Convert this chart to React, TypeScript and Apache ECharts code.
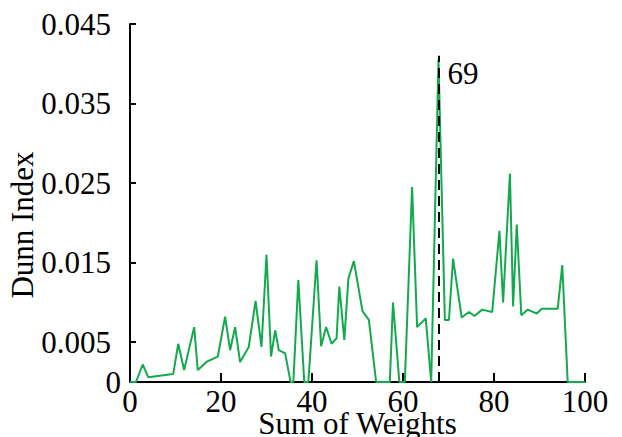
import React, { useEffect, useRef } from "react";
import * as echarts from "echarts";

const weightSums = [0, 1.3, 2.8, 4.0, 9.5, 10.6, 11.9, 14.1, 14.9, 17.0, 19.3, 20.9, 22.0, 23.1, 24.2, 26.1, 27.6, 28.9, 30.0, 31.0, 31.9, 32.7, 34.1, 35.3, 35.9, 37.0, 38.3, 39.2, 41.0, 42.0, 43.1, 44.3, 45.4, 46.0, 47.1, 48.0, 49.2, 51.1, 52.5, 54.1, 57.1, 57.8, 59.2, 60.4, 62.0, 63.1, 65.0, 66.2, 67.8, 69.2, 70.1, 71.0, 72.9, 74.5, 75.7, 77.4, 79.6, 81.2, 82.0, 83.5, 84.2, 85.0, 86.0, 87.4, 89.4, 90.5, 94.0, 95.0, 96.2, 100];
const dunnValues = [0, 0, 0.0022, 0.0006, 0.001, 0.0048, 0.0015, 0.0069, 0.0015, 0.0026, 0.0032, 0.0082, 0.004, 0.0069, 0.0025, 0.0044, 0.0102, 0.0044, 0.016, 0.0032, 0.0065, 0.004, 0.0036, 0, 0, 0.0128, 0, 0, 0.0153, 0.0045, 0.0069, 0.0048, 0.0055, 0.012, 0.0053, 0.013, 0.0152, 0.0089, 0.0078, 0, 0, 0.01, 0, 0, 0.0245, 0.0069, 0.008, 0, 0.0405, 0.0078, 0.0078, 0.0155, 0.0081, 0.0088, 0.0083, 0.0091, 0.0088, 0.019, 0.01, 0.0262, 0.0095, 0.0198, 0.0084, 0.0091, 0.0086, 0.0092, 0.0092, 0.0147, 0, 0];
const yLabelValues = [0, 0.005, 0.015, 0.025, 0.035, 0.045];
const yTickValues = [0.005, 0.015, 0.025, 0.035, 0.045];
const xLabelValues = [0, 20, 40, 60, 80, 100];
const xTickValues = [20, 40, 60, 80, 100];
const bestX = 67.8;
const bestLineTop = 0.041;
const bestLabel = "69";
const bestLabelY = 0.0388;

const FONT = "Liberation Serif";
const FS = 31;

export default function App() {
  const ref = useRef<HTMLDivElement>(null);
  useEffect(() => {
    if (!ref.current) return;
    const chart = echarts.init(ref.current, null, { renderer: "svg" });
    chart.setOption({
      animation: false,
      backgroundColor: "#ffffff",
      grid: { left: 130, right: 37, top: 24, bottom: 55, containLabel: false, outerBoundsMode: "none" },
      xAxis: {
        type: "value",
        min: 0,
        max: 100,
        name: "Sum of Weights",
        nameLocation: "middle",
        nameGap: 26,
        nameMoveOverlap: false,
        nameTextStyle: { fontFamily: FONT, fontSize: FS, color: "#000" },
        splitLine: { show: false },
        axisLine: { lineStyle: { color: "#000", width: 2 } },
        axisTick: { inside: true, length: 9, lineStyle: { color: "#000", width: 2 }, customValues: xTickValues },
        axisLabel: { customValues: xLabelValues, fontFamily: FONT, fontSize: FS, color: "#000", margin: 4 },
      },
      yAxis: {
        type: "value",
        min: 0,
        max: 0.045,
        name: "Dunn Index",
        nameLocation: "middle",
        nameGap: 92,
        nameMoveOverlap: false,
        nameTextStyle: { fontFamily: FONT, fontSize: FS, color: "#000", padding: [0, 44, 0, 0] },
        splitLine: { show: false },
        axisLine: { lineStyle: { color: "#000", width: 2 } },
        axisTick: { inside: true, length: 6, lineStyle: { color: "#000", width: 2 }, customValues: yTickValues },
        axisLabel: {
          customValues: yLabelValues,
          margin: 9,
          formatter: (v: number) => (v === 0 ? "{z|0}" : "{n|" + String(v) + "}"),
          rich: {
            z: { fontFamily: FONT, fontSize: FS, color: "#000" },
            n: { fontFamily: FONT, fontSize: FS, color: "#000", padding: [0, 10, 0, 0] },
          },
        },
      },
      series: [
        {
          type: "line",
          data: weightSums.map((x, i) => [x, dunnValues[i]]),
          showSymbol: false,
          symbol: "none",
          lineStyle: { color: "#12aa4c", width: 2 },
          markLine: {
            silent: true,
            symbol: ["none", "none"],
            label: { show: false },
            lineStyle: { color: "#000", type: [10, 6], width: 2 },
            data: [[{ coord: [bestX, 0] }, { coord: [bestX, bestLineTop] }]],
          },
        },
        {
          type: "scatter",
          data: [[bestX, bestLabelY]],
          symbolSize: 0,
          itemStyle: { opacity: 1 },
          label: {
            show: true,
            position: "right",
            distance: 9,
            formatter: bestLabel,
            fontFamily: FONT,
            fontSize: FS,
            color: "#000",
          },
        },
      ],
    });
    return () => chart.dispose();
  }, []);
  return <div ref={ref} style={{ width: 622, height: 437, position: "absolute", left: 0, top: 0 }} />;
}
